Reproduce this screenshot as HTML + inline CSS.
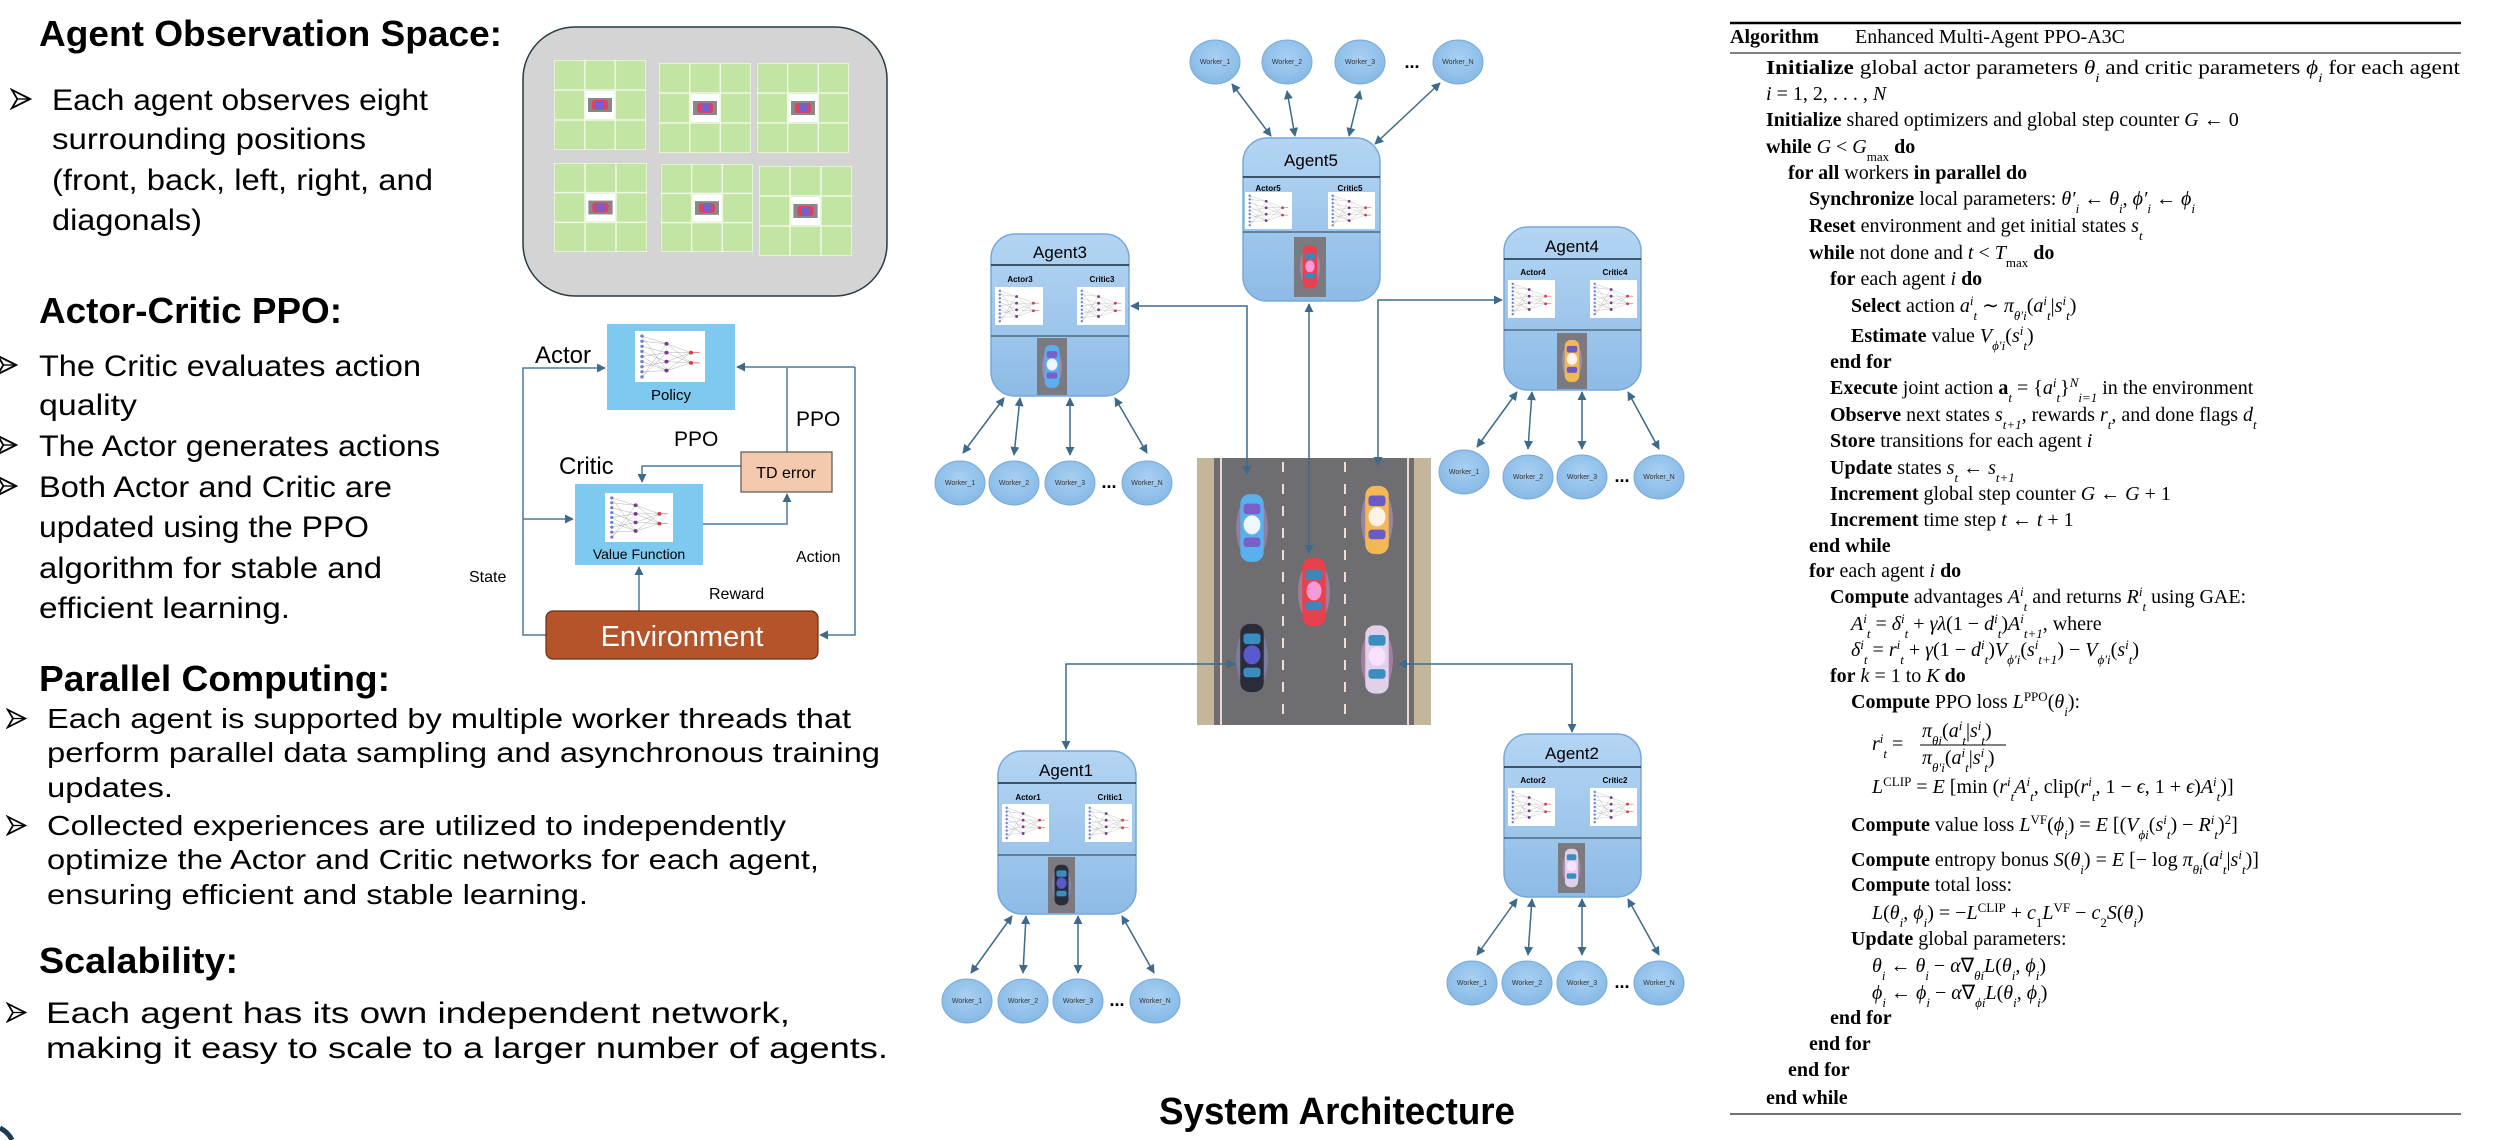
<!DOCTYPE html>
<html><head><meta charset="utf-8">
<style>
html,body{margin:0;padding:0;background:#fff;}
svg{display:block;}
.h{font-family:"Liberation Sans Narrow","Liberation Sans",sans-serif;font-weight:bold;font-size:36px;fill:#000;}
.t{font-family:"Liberation Sans Narrow","Liberation Sans",sans-serif;font-size:30px;fill:#000;}
.t2{font-family:"Liberation Sans Narrow","Liberation Sans",sans-serif;font-size:28px;fill:#000;}
.d{font-family:"Liberation Sans",sans-serif;fill:#000;}
.al{font-family:"Liberation Serif",serif;font-size:20px;fill:#000;}
.b{font-weight:bold;}
.i{font-style:italic;}
.s{font-size:13px;}
.w{font-family:"Liberation Sans",sans-serif;font-size:7px;fill:#333;}
</style></head>
<body>
<svg width="2508" height="1140" viewBox="0 0 2508 1140" xmlns="http://www.w3.org/2000/svg">
<defs>
  <marker id="ar" viewBox="0 0 10 10" refX="9" refY="5" markerWidth="6" markerHeight="6" orient="auto-start-reverse">
    <path d="M0,0 L10,5 L0,10 z" fill="#3d6a8a"/>
  </marker>
  <linearGradient id="ag" x1="0" y1="0" x2="0" y2="1">
    <stop offset="0" stop-color="#b4d5f3"/><stop offset="1" stop-color="#8dbbe6"/>
  </linearGradient>
  <radialGradient id="wk" cx="0.5" cy="0.4" r="0.6">
    <stop offset="0" stop-color="#a9d0f2"/><stop offset="1" stop-color="#86b9e6"/>
  </radialGradient>
  <symbol id="nn" viewBox="0 0 100 80" preserveAspectRatio="none">
    <rect width="100" height="80" fill="#fff"/>
    <g stroke="#888" stroke-width="0.5">
      <path d="M10,8 L45,20 M10,16 L45,20 M10,24 L45,34 M10,32 L45,48 M10,40 L45,34 M10,48 L45,62 M10,56 L45,48 M10,64 L45,62 M10,72 L45,20 M10,8 L45,62 M10,72 L45,34 M10,40 L45,62"/>
      <path d="M45,20 L80,34 M45,34 L80,34 M45,48 L80,34 M45,62 L80,34 M45,20 L80,50 M45,34 L80,50 M45,48 L80,50 M45,62 L80,50"/>
    </g>
    <g fill="#6a7fd0"><circle cx="10" cy="8" r="2.5"/><circle cx="10" cy="16" r="2.5"/><circle cx="10" cy="24" r="2.5"/><circle cx="10" cy="32" r="2.5"/><circle cx="10" cy="40" r="2.5"/><circle cx="10" cy="48" r="2.5"/><circle cx="10" cy="56" r="2.5"/><circle cx="10" cy="64" r="2.5"/><circle cx="10" cy="72" r="2.5"/></g>
    <g fill="#7a3a8a"><circle cx="45" cy="20" r="3"/><circle cx="45" cy="34" r="3"/><circle cx="45" cy="48" r="3"/><circle cx="45" cy="62" r="3"/></g>
    <g fill="#d04040"><circle cx="80" cy="34" r="3"/><circle cx="80" cy="50" r="3"/></g>
    <path d="M80,34 L92,34 M80,50 L92,50" stroke="#d04040" stroke-width="1"/>
  </symbol>
  <symbol id="carR" viewBox="0 0 30 70"><ellipse cx="15" cy="35" rx="15" ry="30" fill="#ff9ad8" opacity="0.35"/><rect x="4" y="3" width="22" height="64" rx="9" fill="#e8404c"/><rect x="7" y="14" width="16" height="10" rx="3" fill="#3f86b8"/><rect x="7" y="44" width="16" height="8" rx="3" fill="#3f86b8"/><ellipse cx="15" cy="34" rx="7" ry="9" fill="#f59ad6"/></symbol>
  <symbol id="carB" viewBox="0 0 30 70"><ellipse cx="15" cy="35" rx="15" ry="30" fill="#d3a0ff" opacity="0.35"/><rect x="4" y="3" width="22" height="64" rx="9" fill="#5ab0ee"/><rect x="7" y="12" width="16" height="10" rx="3" fill="#7a5fc8"/><rect x="7" y="44" width="16" height="9" rx="3" fill="#7a5fc8"/><ellipse cx="15" cy="32" rx="8" ry="9" fill="#eef6ff"/></symbol>
  <symbol id="carY" viewBox="0 0 30 70"><ellipse cx="15" cy="35" rx="15" ry="30" fill="#ffc0ff" opacity="0.3"/><rect x="4" y="3" width="22" height="64" rx="9" fill="#f2b855"/><rect x="7" y="12" width="16" height="10" rx="3" fill="#6a5ac8"/><rect x="7" y="44" width="16" height="9" rx="3" fill="#6a5ac8"/><ellipse cx="15" cy="32" rx="8" ry="9" fill="#fff3e8"/></symbol>
  <symbol id="carD" viewBox="0 0 30 70"><ellipse cx="15" cy="35" rx="15" ry="30" fill="#a0a0ff" opacity="0.3"/><rect x="4" y="3" width="22" height="64" rx="9" fill="#2a2c3a"/><rect x="7" y="12" width="16" height="10" rx="3" fill="#3b8cc0"/><rect x="7" y="44" width="16" height="9" rx="3" fill="#3b8cc0"/><ellipse cx="15" cy="32" rx="8" ry="9" fill="#5a5ad0"/></symbol>
  <symbol id="carW" viewBox="0 0 30 70"><ellipse cx="15" cy="35" rx="15" ry="30" fill="#ffa0ff" opacity="0.35"/><rect x="4" y="3" width="22" height="64" rx="9" fill="#e0d0e8"/><rect x="7" y="12" width="16" height="10" rx="3" fill="#3b8cc0"/><rect x="7" y="44" width="16" height="9" rx="3" fill="#3b8cc0"/><ellipse cx="15" cy="32" rx="8" ry="9" fill="#fbe0ff"/></symbol>
  <symbol id="bul" viewBox="0 0 24 24"><path d="M2,2 L22,12 L2,22 L8,12 z" fill="#fff" stroke="#000" stroke-width="2" stroke-linejoin="miter"/><path d="M8,12 L22,12" stroke="#000" stroke-width="1.5"/></symbol>
  <symbol id="grid" viewBox="0 0 92 90" preserveAspectRatio="none">
    <rect width="92" height="90" fill="#c3e5a3"/>
    <path d="M30.7,0 V90 M61.3,0 V90 M0,30 H92 M0,60 H92" stroke="#eef8e4" stroke-width="1.5"/>
    <rect x="0" y="0" width="92" height="90" fill="none" stroke="#eef8e4" stroke-width="1.5"/>
    <rect x="31.5" y="31" width="29" height="28" fill="#fff"/>
    <rect x="34" y="38" width="24" height="14" fill="#888"/>
    <rect x="38" y="40" width="16" height="10" rx="3" fill="#e04060"/>
    <rect x="42" y="41" width="8" height="8" fill="#7060d0"/>
  </symbol>
</defs>

<!-- ============ LEFT TEXT ============ -->
<text class="h" x="39" y="46" textLength="463" lengthAdjust="spacingAndGlyphs">Agent  Observation Space:</text>
<use href="#bul" x="10" y="88" width="22" height="22"/>
<text class="t" x="52" y="110" textLength="376" lengthAdjust="spacingAndGlyphs">Each agent observes eight</text>
<text class="t" x="52" y="149" textLength="314" lengthAdjust="spacingAndGlyphs">surrounding positions</text>
<text class="t" x="52" y="190" textLength="381" lengthAdjust="spacingAndGlyphs">(front, back, left, right, and</text>
<text class="t" x="52" y="230" textLength="150" lengthAdjust="spacingAndGlyphs">diagonals)</text>

<text class="h" x="39" y="323" textLength="303" lengthAdjust="spacingAndGlyphs">Actor-Critic PPO:</text>
<use href="#bul" x="-4" y="354" width="22" height="22"/>
<use href="#bul" x="-4" y="434" width="22" height="22"/>
<use href="#bul" x="-4" y="475" width="22" height="22"/>
<text class="t" x="39" y="376" textLength="382" lengthAdjust="spacingAndGlyphs">The Critic evaluates action</text>
<text class="t" x="39" y="415" textLength="98" lengthAdjust="spacingAndGlyphs">quality</text>
<text class="t" x="39" y="456" textLength="401" lengthAdjust="spacingAndGlyphs">The Actor generates actions</text>
<text class="t" x="39" y="497" textLength="353" lengthAdjust="spacingAndGlyphs">Both Actor and Critic are</text>
<text class="t" x="39" y="537" textLength="330" lengthAdjust="spacingAndGlyphs">updated using the PPO</text>
<text class="t" x="39" y="578" textLength="343" lengthAdjust="spacingAndGlyphs">algorithm for stable and</text>
<text class="t" x="39" y="618" textLength="251" lengthAdjust="spacingAndGlyphs">efficient learning.</text>

<text class="h" x="39" y="691" textLength="351" lengthAdjust="spacingAndGlyphs">Parallel Computing:</text>
<use href="#bul" x="6" y="708" width="21" height="21"/>
<use href="#bul" x="6" y="815" width="21" height="21"/>
<text class="t2" x="47" y="728" textLength="804" lengthAdjust="spacingAndGlyphs">Each agent is supported by multiple worker threads that</text>
<text class="t2" x="47" y="762" textLength="833" lengthAdjust="spacingAndGlyphs">perform parallel data sampling and asynchronous training</text>
<text class="t2" x="47" y="797" textLength="126" lengthAdjust="spacingAndGlyphs">updates.</text>
<text class="t2" x="47" y="835" textLength="739" lengthAdjust="spacingAndGlyphs">Collected experiences are utilized to independently</text>
<text class="t2" x="47" y="869" textLength="772" lengthAdjust="spacingAndGlyphs">optimize the Actor and Critic networks for each agent,</text>
<text class="t2" x="47" y="904" textLength="541" lengthAdjust="spacingAndGlyphs">ensuring efficient and stable learning.</text>

<text class="h" x="39" y="973" textLength="199" lengthAdjust="spacingAndGlyphs">Scalability:</text>
<use href="#bul" x="6" y="1002" width="21" height="21"/>
<text class="t" x="46" y="1023" textLength="744" lengthAdjust="spacingAndGlyphs">Each agent has its own independent network,</text>
<text class="t" x="46" y="1058" textLength="842" lengthAdjust="spacingAndGlyphs">making it easy to scale to a larger number of agents.</text>
<path d="M0,1128 Q8,1132 12,1140" stroke="#1d3a55" stroke-width="5" fill="none"/>

<!-- ============ OBSERVATION BOX ============ -->
<rect x="523" y="27" width="364" height="269" rx="52" fill="#d4d4d4" stroke="#2a3a44" stroke-width="1.5"/>
<use href="#grid" x="554" y="60" width="92" height="90"/>
<use href="#grid" x="659" y="63" width="92" height="90"/>
<use href="#grid" x="757" y="63" width="92" height="90"/>
<use href="#grid" x="554" y="163" width="93" height="89"/>
<use href="#grid" x="661" y="164" width="92" height="88"/>
<use href="#grid" x="759" y="166" width="93" height="90"/>

<!-- ============ ACTOR-CRITIC DIAGRAM ============ -->
<g stroke="#4a7a9c" stroke-width="1.5" fill="none">
  <path d="M546,635 H523 V368 H605" marker-end="url(#ar)"/>
  <path d="M523,519 H573" marker-end="url(#ar)"/>
  <path d="M855,367 H737" marker-end="url(#ar)"/>
  <path d="M855,367 V635 H820" marker-end="url(#ar)"/>
  <path d="M787,368 V452"/>
  <path d="M703,524 H787 V494" marker-end="url(#ar)"/>
  <path d="M741,466 H642 V482" marker-end="url(#ar)"/>
  <path d="M639,611 V567" marker-end="url(#ar)"/>
</g>
<rect x="607" y="324" width="128" height="86" fill="#7ec9ef"/>
<use href="#nn" x="635" y="331" width="70" height="51"/>
<text class="d" x="671" y="400" font-size="15" text-anchor="middle">Policy</text>
<rect x="575" y="484" width="128" height="81" fill="#7ec9ef"/>
<use href="#nn" x="605" y="493" width="68" height="49"/>
<text class="d" x="639" y="559" font-size="14" text-anchor="middle">Value Function</text>
<rect x="741" y="452" width="91" height="40" fill="#f4c9ad" stroke="#555" stroke-width="1.2"/>
<text class="d" x="786" y="478" font-size="16" text-anchor="middle">TD error</text>
<rect x="546" y="611" width="272" height="48" rx="7" fill="#b5532a" stroke="#6a2e14" stroke-width="1.2"/>
<text class="d" x="682" y="646" font-size="29" fill="#fff" style="fill:#fff" text-anchor="middle">Environment</text>
<text class="d" x="535" y="363" font-size="24">Actor</text>
<text class="d" x="559" y="474" font-size="24">Critic</text>
<text class="d" x="674" y="446" font-size="21">PPO</text>
<text class="d" x="796" y="426" font-size="21">PPO</text>
<text class="d" x="796" y="562" font-size="16">Action</text>
<text class="d" x="709" y="599" font-size="16">Reward</text>
<text class="d" x="469" y="582" font-size="16">State</text>

<!-- ============ SYSTEM ARCHITECTURE ============ -->
<!-- worker connectors -->
<g stroke="#3d6a8a" stroke-width="1.5" fill="none" marker-start="url(#ar)" marker-end="url(#ar)">
  <path d="M1232,84 L1271,136"/><path d="M1287,91 L1295,136"/><path d="M1360,91 L1349,136"/><path d="M1440,83 L1375,144"/>
  <path d="M1004,398 L963,453"/><path d="M1020,398 L1014,455"/><path d="M1070,398 L1070,455"/><path d="M1115,398 L1147,453"/>
  <path d="M1517,392 L1477,447"/><path d="M1532,392 L1528,449"/><path d="M1582,392 L1582,449"/><path d="M1628,392 L1659,449"/>
  <path d="M1012,916 L971,973"/><path d="M1026,916 L1023,973"/><path d="M1078,916 L1078,973"/><path d="M1122,916 L1154,973"/>
  <path d="M1517,899 L1477,955"/><path d="M1532,899 L1528,955"/><path d="M1582,899 L1582,955"/><path d="M1628,899 L1659,955"/>
</g>
<!-- workers -->
<g fill="url(#wk)" stroke="#7aaad6" stroke-width="1">
  <ellipse cx="1215" cy="62" rx="25" ry="22"/><ellipse cx="1287" cy="62" rx="25" ry="22"/><ellipse cx="1360" cy="62" rx="25" ry="22"/><ellipse cx="1458" cy="62" rx="25" ry="22"/>
  <ellipse cx="960" cy="483" rx="25" ry="22"/><ellipse cx="1014" cy="483" rx="25" ry="22"/><ellipse cx="1070" cy="483" rx="25" ry="22"/><ellipse cx="1147" cy="483" rx="25" ry="22"/>
  <ellipse cx="1464" cy="472" rx="25" ry="22"/><ellipse cx="1528" cy="477" rx="25" ry="22"/><ellipse cx="1582" cy="477" rx="25" ry="22"/><ellipse cx="1659" cy="477" rx="25" ry="22"/>
  <ellipse cx="967" cy="1001" rx="25" ry="22"/><ellipse cx="1023" cy="1001" rx="25" ry="22"/><ellipse cx="1078" cy="1001" rx="25" ry="22"/><ellipse cx="1155" cy="1001" rx="25" ry="22"/>
  <ellipse cx="1472" cy="983" rx="25" ry="22"/><ellipse cx="1527" cy="983" rx="25" ry="22"/><ellipse cx="1582" cy="983" rx="25" ry="22"/><ellipse cx="1659" cy="983" rx="25" ry="22"/>
</g>
<g class="w" text-anchor="middle">
  <text x="1215" y="64" class="w">Worker_1</text><text x="1287" y="64" class="w">Worker_2</text><text x="1360" y="64" class="w">Worker_3</text><text x="1458" y="64" class="w">Worker_N</text>
  <text x="960" y="485" class="w">Worker_1</text><text x="1014" y="485" class="w">Worker_2</text><text x="1070" y="485" class="w">Worker_3</text><text x="1147" y="485" class="w">Worker_N</text>
  <text x="1464" y="474" class="w">Worker_1</text><text x="1528" y="479" class="w">Worker_2</text><text x="1582" y="479" class="w">Worker_3</text><text x="1659" y="479" class="w">Worker_N</text>
  <text x="967" y="1003" class="w">Worker_1</text><text x="1023" y="1003" class="w">Worker_2</text><text x="1078" y="1003" class="w">Worker_3</text><text x="1155" y="1003" class="w">Worker_N</text>
  <text x="1472" y="985" class="w">Worker_1</text><text x="1527" y="985" class="w">Worker_2</text><text x="1582" y="985" class="w">Worker_3</text><text x="1659" y="985" class="w">Worker_N</text>
</g>
<g class="d" font-size="18" font-weight="bold" text-anchor="middle">
  <text x="1412" y="68">...</text><text x="1109" y="488">...</text><text x="1622" y="482">...</text><text x="1117" y="1006">...</text><text x="1622" y="988">...</text>
</g>

<!-- road -->
<rect x="1197" y="458" width="234" height="267" fill="#6d6d72"/>
<rect x="1197" y="458" width="17" height="267" fill="#c4b69a"/>
<rect x="1414" y="458" width="17" height="267" fill="#c4b69a"/>
<path d="M1221,458 V725 M1408,458 V725" stroke="#f0d8d0" stroke-width="2"/>
<path d="M1283,462 V725 M1345,462 V725" stroke="#f2dcd0" stroke-width="2" stroke-dasharray="10,12"/>
<use href="#carB" x="1236" y="491" width="32" height="74"/>
<use href="#carY" x="1361" y="482" width="32" height="76"/>
<use href="#carR" x="1298" y="554" width="32" height="76"/>
<use href="#carD" x="1236" y="620" width="32" height="76"/>
<use href="#carW" x="1361" y="622" width="32" height="75"/>

<!-- agent-road connectors -->
<g stroke="#3d6a8a" stroke-width="1.5" fill="none" marker-start="url(#ar)" marker-end="url(#ar)">
  <path d="M1131,306 H1247 V474"/>
  <path d="M1309,304 V553"/>
  <path d="M1378,465 V300 H1502"/>
  <path d="M1066,749 V664 H1235"/>
  <path d="M1572,732 V664 H1399"/>
</g>

<!-- agent boxes -->
<g id="A5">
  <rect x="1243" y="138" width="137" height="163" rx="24" fill="url(#ag)" stroke="#76a8d8" stroke-width="1.5"/>
  <text class="d" x="1311" y="166" font-size="17" text-anchor="middle">Agent5</text>
  <line x1="1243" y1="177" x2="1380" y2="177" stroke="#1a2a3a" stroke-width="1.5"/>
  <text class="d b" x="1268" y="191" font-size="8" text-anchor="middle">Actor5</text>
  <text class="d b" x="1350" y="191" font-size="8" text-anchor="middle">Critic5</text>
  <use href="#nn" x="1245" y="192" width="47" height="37"/>
  <use href="#nn" x="1328" y="192" width="47" height="37"/>
  <line x1="1243" y1="232" x2="1380" y2="232" stroke="#2a3a4a" stroke-width="1"/>
  <rect x="1294" y="237" width="32" height="60" fill="#7a7a80"/>
  <use href="#carR" x="1300" y="243" width="20" height="48"/>
</g>
<g>
  <rect x="991" y="234" width="138" height="162" rx="24" fill="url(#ag)" stroke="#76a8d8" stroke-width="1.5"/>
  <text class="d" x="1060" y="258" font-size="17" text-anchor="middle">Agent3</text>
  <line x1="991" y1="265" x2="1129" y2="265" stroke="#1a2a3a" stroke-width="1.5"/>
  <text class="d b" x="1020" y="282" font-size="8" text-anchor="middle">Actor3</text>
  <text class="d b" x="1102" y="282" font-size="8" text-anchor="middle">Critic3</text>
  <use href="#nn" x="995" y="287" width="48" height="38"/>
  <use href="#nn" x="1077" y="287" width="48" height="38"/>
  <line x1="991" y1="336" x2="1129" y2="336" stroke="#2a3a4a" stroke-width="1"/>
  <rect x="1037" y="338" width="30" height="57" fill="#7a7a80"/>
  <use href="#carB" x="1042" y="343" width="20" height="47"/>
</g>
<g>
  <rect x="1504" y="227" width="137" height="163" rx="24" fill="url(#ag)" stroke="#76a8d8" stroke-width="1.5"/>
  <text class="d" x="1572" y="252" font-size="17" text-anchor="middle">Agent4</text>
  <line x1="1504" y1="259" x2="1641" y2="259" stroke="#1a2a3a" stroke-width="1.5"/>
  <text class="d b" x="1533" y="275" font-size="8" text-anchor="middle">Actor4</text>
  <text class="d b" x="1615" y="275" font-size="8" text-anchor="middle">Critic4</text>
  <use href="#nn" x="1508" y="280" width="47" height="38"/>
  <use href="#nn" x="1590" y="280" width="47" height="38"/>
  <line x1="1504" y1="330" x2="1641" y2="330" stroke="#2a3a4a" stroke-width="1"/>
  <rect x="1557" y="333" width="30" height="56" fill="#7a7a80"/>
  <use href="#carY" x="1562" y="338" width="20" height="46"/>
</g>
<g>
  <rect x="998" y="751" width="138" height="163" rx="24" fill="url(#ag)" stroke="#76a8d8" stroke-width="1.5"/>
  <text class="d" x="1066" y="776" font-size="17" text-anchor="middle">Agent1</text>
  <line x1="998" y1="783" x2="1136" y2="783" stroke="#1a2a3a" stroke-width="1.5"/>
  <text class="d b" x="1028" y="800" font-size="8" text-anchor="middle">Actor1</text>
  <text class="d b" x="1110" y="800" font-size="8" text-anchor="middle">Critic1</text>
  <use href="#nn" x="1002" y="804" width="47" height="38"/>
  <use href="#nn" x="1085" y="804" width="47" height="38"/>
  <line x1="998" y1="855" x2="1136" y2="855" stroke="#2a3a4a" stroke-width="1"/>
  <rect x="1048" y="857" width="27" height="56" fill="#7a7a80"/>
  <use href="#carD" x="1052" y="862" width="19" height="46"/>
</g>
<g>
  <rect x="1504" y="734" width="137" height="163" rx="24" fill="url(#ag)" stroke="#76a8d8" stroke-width="1.5"/>
  <text class="d" x="1572" y="759" font-size="17" text-anchor="middle">Agent2</text>
  <line x1="1504" y1="767" x2="1641" y2="767" stroke="#1a2a3a" stroke-width="1.5"/>
  <text class="d b" x="1533" y="783" font-size="8" text-anchor="middle">Actor2</text>
  <text class="d b" x="1615" y="783" font-size="8" text-anchor="middle">Critic2</text>
  <use href="#nn" x="1508" y="788" width="47" height="38"/>
  <use href="#nn" x="1590" y="788" width="47" height="38"/>
  <line x1="1504" y1="838" x2="1641" y2="838" stroke="#2a3a4a" stroke-width="1"/>
  <rect x="1558" y="843" width="27" height="50" fill="#7a7a80"/>
  <use href="#carW" x="1562" y="847" width="19" height="42"/>
</g>
<text class="d" x="1337" y="1124" font-size="38" font-weight="bold" text-anchor="middle" textLength="356" lengthAdjust="spacingAndGlyphs">System Architecture</text>

<!-- ============ ALGORITHM ============ -->
<line x1="1730" y1="23" x2="2461" y2="23" stroke="#000" stroke-width="2.5"/>
<line x1="1730" y1="53" x2="2461" y2="53" stroke="#000" stroke-width="1"/>
<line x1="1730" y1="1114" x2="2461" y2="1114" stroke="#444" stroke-width="1.5"/>
<g class="al">
<text x="1730" y="43"><tspan class="b">Algorithm</tspan></text>
<text x="1855" y="43">Enhanced Multi-Agent PPO-A3C</text>
<text x="1766" y="74" textLength="694" lengthAdjust="spacingAndGlyphs"><tspan class="b">Initialize</tspan> global actor parameters <tspan class="i">θ</tspan><tspan class="s i" baseline-shift="sub">i</tspan> and critic parameters <tspan class="i">ϕ</tspan><tspan class="s i" baseline-shift="sub">i</tspan> for each agent</text>
<text x="1766" y="100"><tspan class="i">i</tspan> = 1, 2, . . . , <tspan class="i">N</tspan></text>
<text x="1766" y="126"><tspan class="b">Initialize</tspan> shared optimizers and global step counter <tspan class="i">G</tspan> ← 0</text>
<text x="1766" y="153"><tspan class="b">while</tspan> <tspan class="i">G</tspan> &lt; <tspan class="i">G</tspan><tspan class="s" baseline-shift="sub">max</tspan> <tspan class="b">do</tspan></text>
<text x="1788" y="179"><tspan class="b">for all</tspan> workers <tspan class="b">in parallel do</tspan></text>
<text x="1809" y="205"><tspan class="b">Synchronize</tspan> local parameters: <tspan class="i">θ′</tspan><tspan class="s i" baseline-shift="sub">i</tspan> ← <tspan class="i">θ</tspan><tspan class="s i" baseline-shift="sub">i</tspan>, <tspan class="i">ϕ′</tspan><tspan class="s i" baseline-shift="sub">i</tspan> ← <tspan class="i">ϕ</tspan><tspan class="s i" baseline-shift="sub">i</tspan></text>
<text x="1809" y="232"><tspan class="b">Reset</tspan> environment and get initial states <tspan class="i">s</tspan><tspan class="s i" baseline-shift="sub">t</tspan></text>
<text x="1809" y="259"><tspan class="b">while</tspan> not done and <tspan class="i">t</tspan> &lt; <tspan class="i">T</tspan><tspan class="s" baseline-shift="sub">max</tspan> <tspan class="b">do</tspan></text>
<text x="1830" y="285"><tspan class="b">for</tspan> each agent <tspan class="i">i</tspan> <tspan class="b">do</tspan></text>
<text x="1851" y="312"><tspan class="b">Select</tspan> action <tspan class="i">a</tspan><tspan class="s i" baseline-shift="super">i</tspan><tspan class="s i" baseline-shift="sub">t</tspan> ∼ <tspan class="i">π</tspan><tspan class="s i" baseline-shift="sub">θ′i</tspan>(<tspan class="i">a</tspan><tspan class="s i" baseline-shift="super">i</tspan><tspan class="s i" baseline-shift="sub">t</tspan>|<tspan class="i">s</tspan><tspan class="s i" baseline-shift="super">i</tspan><tspan class="s i" baseline-shift="sub">t</tspan>)</text>
<text x="1851" y="342"><tspan class="b">Estimate</tspan> value <tspan class="i">V</tspan><tspan class="s i" baseline-shift="sub">ϕ′i</tspan>(<tspan class="i">s</tspan><tspan class="s i" baseline-shift="super">i</tspan><tspan class="s i" baseline-shift="sub">t</tspan>)</text>
<text x="1830" y="368"><tspan class="b">end for</tspan></text>
<text x="1830" y="394"><tspan class="b">Execute</tspan> joint action <tspan class="b">a</tspan><tspan class="s i" baseline-shift="sub">t</tspan> = {<tspan class="i">a</tspan><tspan class="s i" baseline-shift="super">i</tspan><tspan class="s i" baseline-shift="sub">t</tspan>}<tspan class="s i" baseline-shift="super">N</tspan><tspan class="s i" baseline-shift="sub">i=1</tspan> in the environment</text>
<text x="1830" y="421"><tspan class="b">Observe</tspan> next states <tspan class="i">s</tspan><tspan class="s i" baseline-shift="sub">t+1</tspan>, rewards <tspan class="i">r</tspan><tspan class="s i" baseline-shift="sub">t</tspan>, and done flags <tspan class="i">d</tspan><tspan class="s i" baseline-shift="sub">t</tspan></text>
<text x="1830" y="447"><tspan class="b">Store</tspan> transitions for each agent <tspan class="i">i</tspan></text>
<text x="1830" y="474"><tspan class="b">Update</tspan> states <tspan class="i">s</tspan><tspan class="s i" baseline-shift="sub">t</tspan> ← <tspan class="i">s</tspan><tspan class="s i" baseline-shift="sub">t+1</tspan></text>
<text x="1830" y="500"><tspan class="b">Increment</tspan> global step counter <tspan class="i">G</tspan> ← <tspan class="i">G</tspan> + 1</text>
<text x="1830" y="526"><tspan class="b">Increment</tspan> time step <tspan class="i">t</tspan> ← <tspan class="i">t</tspan> + 1</text>
<text x="1809" y="552"><tspan class="b">end while</tspan></text>
<text x="1809" y="577"><tspan class="b">for</tspan> each agent <tspan class="i">i</tspan> <tspan class="b">do</tspan></text>
<text x="1830" y="603"><tspan class="b">Compute</tspan> advantages <tspan class="i">A</tspan><tspan class="s i" baseline-shift="super">i</tspan><tspan class="s i" baseline-shift="sub">t</tspan> and returns <tspan class="i">R</tspan><tspan class="s i" baseline-shift="super">i</tspan><tspan class="s i" baseline-shift="sub">t</tspan> using GAE:</text>
<text x="1851" y="630"><tspan class="i">A</tspan><tspan class="s i" baseline-shift="super">i</tspan><tspan class="s i" baseline-shift="sub">t</tspan> = <tspan class="i">δ</tspan><tspan class="s i" baseline-shift="super">i</tspan><tspan class="s i" baseline-shift="sub">t</tspan> + <tspan class="i">γλ</tspan>(1 − <tspan class="i">d</tspan><tspan class="s i" baseline-shift="super">i</tspan><tspan class="s i" baseline-shift="sub">t</tspan>)<tspan class="i">A</tspan><tspan class="s i" baseline-shift="super">i</tspan><tspan class="s i" baseline-shift="sub">t+1</tspan>, where</text>
<text x="1851" y="656"><tspan class="i">δ</tspan><tspan class="s i" baseline-shift="super">i</tspan><tspan class="s i" baseline-shift="sub">t</tspan> = <tspan class="i">r</tspan><tspan class="s i" baseline-shift="super">i</tspan><tspan class="s i" baseline-shift="sub">t</tspan> + <tspan class="i">γ</tspan>(1 − <tspan class="i">d</tspan><tspan class="s i" baseline-shift="super">i</tspan><tspan class="s i" baseline-shift="sub">t</tspan>)<tspan class="i">V</tspan><tspan class="s i" baseline-shift="sub">ϕ′i</tspan>(<tspan class="i">s</tspan><tspan class="s i" baseline-shift="super">i</tspan><tspan class="s i" baseline-shift="sub">t+1</tspan>) − <tspan class="i">V</tspan><tspan class="s i" baseline-shift="sub">ϕ′i</tspan>(<tspan class="i">s</tspan><tspan class="s i" baseline-shift="super">i</tspan><tspan class="s i" baseline-shift="sub">t</tspan>)</text>
<text x="1830" y="682"><tspan class="b">for</tspan> <tspan class="i">k</tspan> = 1 to <tspan class="i">K</tspan> <tspan class="b">do</tspan></text>
<text x="1851" y="708"><tspan class="b">Compute</tspan> PPO loss <tspan class="i">L</tspan><tspan class="s" baseline-shift="super">PPO</tspan>(<tspan class="i">θ</tspan><tspan class="s i" baseline-shift="sub">i</tspan>):</text>
<text x="1872" y="750"><tspan class="i">r</tspan><tspan class="s i" baseline-shift="super">i</tspan><tspan class="s i" baseline-shift="sub">t</tspan> =</text>
<text x="1922" y="737"><tspan class="i">π</tspan><tspan class="s i" baseline-shift="sub">θi</tspan>(<tspan class="i">a</tspan><tspan class="s i" baseline-shift="super">i</tspan><tspan class="s i" baseline-shift="sub">t</tspan>|<tspan class="i">s</tspan><tspan class="s i" baseline-shift="super">i</tspan><tspan class="s i" baseline-shift="sub">t</tspan>)</text>
<text x="1922" y="764"><tspan class="i">π</tspan><tspan class="s i" baseline-shift="sub">θ′i</tspan>(<tspan class="i">a</tspan><tspan class="s i" baseline-shift="super">i</tspan><tspan class="s i" baseline-shift="sub">t</tspan>|<tspan class="i">s</tspan><tspan class="s i" baseline-shift="super">i</tspan><tspan class="s i" baseline-shift="sub">t</tspan>)</text>
<line x1="1920" y1="745" x2="2006" y2="745" stroke="#000" stroke-width="1"/>
<text x="1872" y="793"><tspan class="i">L</tspan><tspan class="s" baseline-shift="super">CLIP</tspan> = <tspan class="i">E</tspan> [min (<tspan class="i">r</tspan><tspan class="s i" baseline-shift="super">i</tspan><tspan class="s i" baseline-shift="sub">t</tspan><tspan class="i">A</tspan><tspan class="s i" baseline-shift="super">i</tspan><tspan class="s i" baseline-shift="sub">t</tspan>, clip(<tspan class="i">r</tspan><tspan class="s i" baseline-shift="super">i</tspan><tspan class="s i" baseline-shift="sub">t</tspan>, 1 − <tspan class="i">ϵ</tspan>, 1 + <tspan class="i">ϵ</tspan>)<tspan class="i">A</tspan><tspan class="s i" baseline-shift="super">i</tspan><tspan class="s i" baseline-shift="sub">t</tspan>)]</text>
<text x="1851" y="831"><tspan class="b">Compute</tspan> value loss <tspan class="i">L</tspan><tspan class="s" baseline-shift="super">VF</tspan>(<tspan class="i">ϕ</tspan><tspan class="s i" baseline-shift="sub">i</tspan>) = <tspan class="i">E</tspan> [(<tspan class="i">V</tspan><tspan class="s i" baseline-shift="sub">ϕi</tspan>(<tspan class="i">s</tspan><tspan class="s i" baseline-shift="super">i</tspan><tspan class="s i" baseline-shift="sub">t</tspan>) − <tspan class="i">R</tspan><tspan class="s i" baseline-shift="super">i</tspan><tspan class="s i" baseline-shift="sub">t</tspan>)<tspan class="s" baseline-shift="super">2</tspan>]</text>
<text x="1851" y="866"><tspan class="b">Compute</tspan> entropy bonus <tspan class="i">S</tspan>(<tspan class="i">θ</tspan><tspan class="s i" baseline-shift="sub">i</tspan>) = <tspan class="i">E</tspan> [− log <tspan class="i">π</tspan><tspan class="s i" baseline-shift="sub">θi</tspan>(<tspan class="i">a</tspan><tspan class="s i" baseline-shift="super">i</tspan><tspan class="s i" baseline-shift="sub">t</tspan>|<tspan class="i">s</tspan><tspan class="s i" baseline-shift="super">i</tspan><tspan class="s i" baseline-shift="sub">t</tspan>)]</text>
<text x="1851" y="891"><tspan class="b">Compute</tspan> total loss:</text>
<text x="1872" y="919"><tspan class="i">L</tspan>(<tspan class="i">θ</tspan><tspan class="s i" baseline-shift="sub">i</tspan>, <tspan class="i">ϕ</tspan><tspan class="s i" baseline-shift="sub">i</tspan>) = −<tspan class="i">L</tspan><tspan class="s" baseline-shift="super">CLIP</tspan> + <tspan class="i">c</tspan><tspan class="s" baseline-shift="sub">1</tspan><tspan class="i">L</tspan><tspan class="s" baseline-shift="super">VF</tspan> − <tspan class="i">c</tspan><tspan class="s" baseline-shift="sub">2</tspan><tspan class="i">S</tspan>(<tspan class="i">θ</tspan><tspan class="s i" baseline-shift="sub">i</tspan>)</text>
<text x="1851" y="945"><tspan class="b">Update</tspan> global parameters:</text>
<text x="1872" y="972"><tspan class="i">θ</tspan><tspan class="s i" baseline-shift="sub">i</tspan> ← <tspan class="i">θ</tspan><tspan class="s i" baseline-shift="sub">i</tspan> − <tspan class="i">α</tspan>∇<tspan class="s i" baseline-shift="sub">θi</tspan><tspan class="i">L</tspan>(<tspan class="i">θ</tspan><tspan class="s i" baseline-shift="sub">i</tspan>, <tspan class="i">ϕ</tspan><tspan class="s i" baseline-shift="sub">i</tspan>)</text>
<text x="1872" y="999"><tspan class="i">ϕ</tspan><tspan class="s i" baseline-shift="sub">i</tspan> ← <tspan class="i">ϕ</tspan><tspan class="s i" baseline-shift="sub">i</tspan> − <tspan class="i">α</tspan>∇<tspan class="s i" baseline-shift="sub">ϕi</tspan><tspan class="i">L</tspan>(<tspan class="i">θ</tspan><tspan class="s i" baseline-shift="sub">i</tspan>, <tspan class="i">ϕ</tspan><tspan class="s i" baseline-shift="sub">i</tspan>)</text>
<text x="1830" y="1024"><tspan class="b">end for</tspan></text>
<text x="1809" y="1050"><tspan class="b">end for</tspan></text>
<text x="1788" y="1076"><tspan class="b">end for</tspan></text>
<text x="1766" y="1104"><tspan class="b">end while</tspan></text>
</g>
</svg>
</body></html>
